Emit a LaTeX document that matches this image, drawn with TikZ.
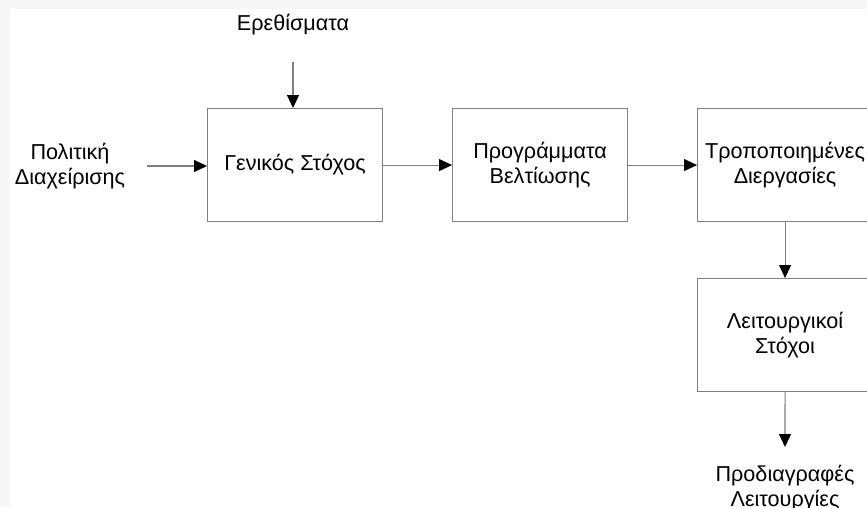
\documentclass[tikz,border=0pt]{standalone}
\usepackage{fontspec}
\setmainfont{Liberation Sans}
\usetikzlibrary{arrows.meta}
\definecolor{boxline}{HTML}{808080}
\definecolor{framebg}{HTML}{F7F7F7}
\tikzset{
  blockbox/.style={draw=boxline, line width=1.1pt, minimum width=175pt, minimum height=113pt, inner sep=0pt, align=center, font=\fontsize{21.6}{25.5}\selectfont, anchor=north west},
  lbl/.style={align=center, inner sep=0pt, font=\fontsize{21.6}{25.5}\selectfont},
  conn/.style={draw=boxline, line width=1.1pt, -{Triangle[length=13pt,width=12pt,color=black,fill=black]}}
}
\begin{document}
\begin{tikzpicture}[x=1pt,y=-1pt]
\useasboundingbox (0,0) rectangle (867,507);
\fill[framebg] (0,0) rectangle (867,507);
\fill[white] (10,9) rectangle (867,507);
\node[blockbox] (genikos) at (207,108) {Γενικός Στόχος};
\node[blockbox] (progr) at (452,108) {Προγράμματα\\Βελτίωσης};
\node[blockbox] (tropo) at (697,108) {Τροποποιημένες\\Διεργασίες};
\node[blockbox] (leit) at (697,278) {Λειτουργικοί\\Στόχοι};
\node[lbl] (ereth) at (293,25) {Ερεθίσματα};
\node[lbl] (polit) at (70,166) {Πολιτική\\Διαχείρισης};
\node[lbl] (prod) at (785,488) {Προδιαγραφές\\Λειτουργίες};
\coordinate (erethend) at (293,62);
\coordinate (politend) at (147,166);
\coordinate (prodend) at (785,447);
\draw[conn] (erethend) -- (genikos.north -| erethend);
\draw[conn] (politend) -- (genikos.west |- politend);
\draw[conn] (genikos.east) -- (progr.west);
\draw[conn] (progr.east) -- (tropo.west);
\draw[conn] (tropo.south) -- (leit.north);
\draw[conn] (leit.south) -- (prodend);
\end{tikzpicture}
\end{document}
